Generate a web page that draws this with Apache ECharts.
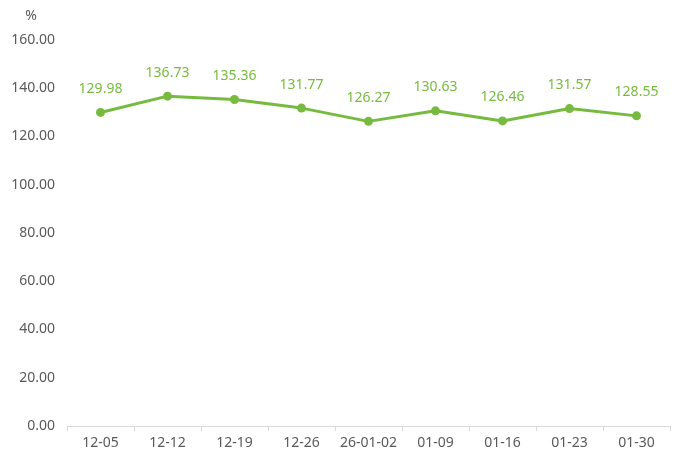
<!DOCTYPE html>
<html><head><meta charset="utf-8">
<script src="https://cdn.jsdelivr.net/npm/echarts@6/dist/echarts.min.js"></script>
<style>html,body{margin:0;padding:0;background:#fff}#c{width:680px;height:464px}</style>
</head><body><div id="c"></div>
<script>
const categories = ['12-05','12-12','12-19','12-26','26-01-02','01-09','01-16','01-23','01-30'];
const values = [129.98,136.73,135.36,131.77,126.27,130.63,126.46,131.57,128.55];
const yTicks = {min:0, max:160, interval:20};
const green = '#76bb40';
const font = 'Noto Sans';
const chart = echarts.init(document.getElementById('c'));
chart.setOption({
  animation:false,
  grid:{left:67,right:10,top:40,bottom:38,containLabel:false},
  xAxis:{type:'category',data:categories,boundaryGap:true,
    axisLine:{lineStyle:{color:'#d9d9d9',width:1}},
    axisTick:{show:true,length:5,interval:0,lineStyle:{color:'#d9d9d9'}},
    axisLabel:{color:'#595959',fontSize:14,fontFamily:font,margin:10,interval:0}},
  yAxis:{type:'value',min:yTicks.min,max:yTicks.max,interval:yTicks.interval,
    name:'%',nameLocation:'end',nameGap:17,nameTextStyle:{color:'#595959',fontSize:14,fontFamily:font,align:'center',padding:[0,0,0,-72]},
    splitLine:{show:false},axisLine:{show:false},axisTick:{show:false},
    axisLabel:{color:'#595959',fontSize:14,fontFamily:font,margin:12,formatter:v=>v.toFixed(2)}},
  series:[{type:'line',data:values,symbol:'circle',symbolSize:9,
    lineStyle:{color:green,width:3},itemStyle:{color:green},
    label:{show:true,position:'top',distance:12,color:green,fontSize:14,fontFamily:font,formatter:p=>p.value.toFixed(2)}}]
});
</script></body></html>
